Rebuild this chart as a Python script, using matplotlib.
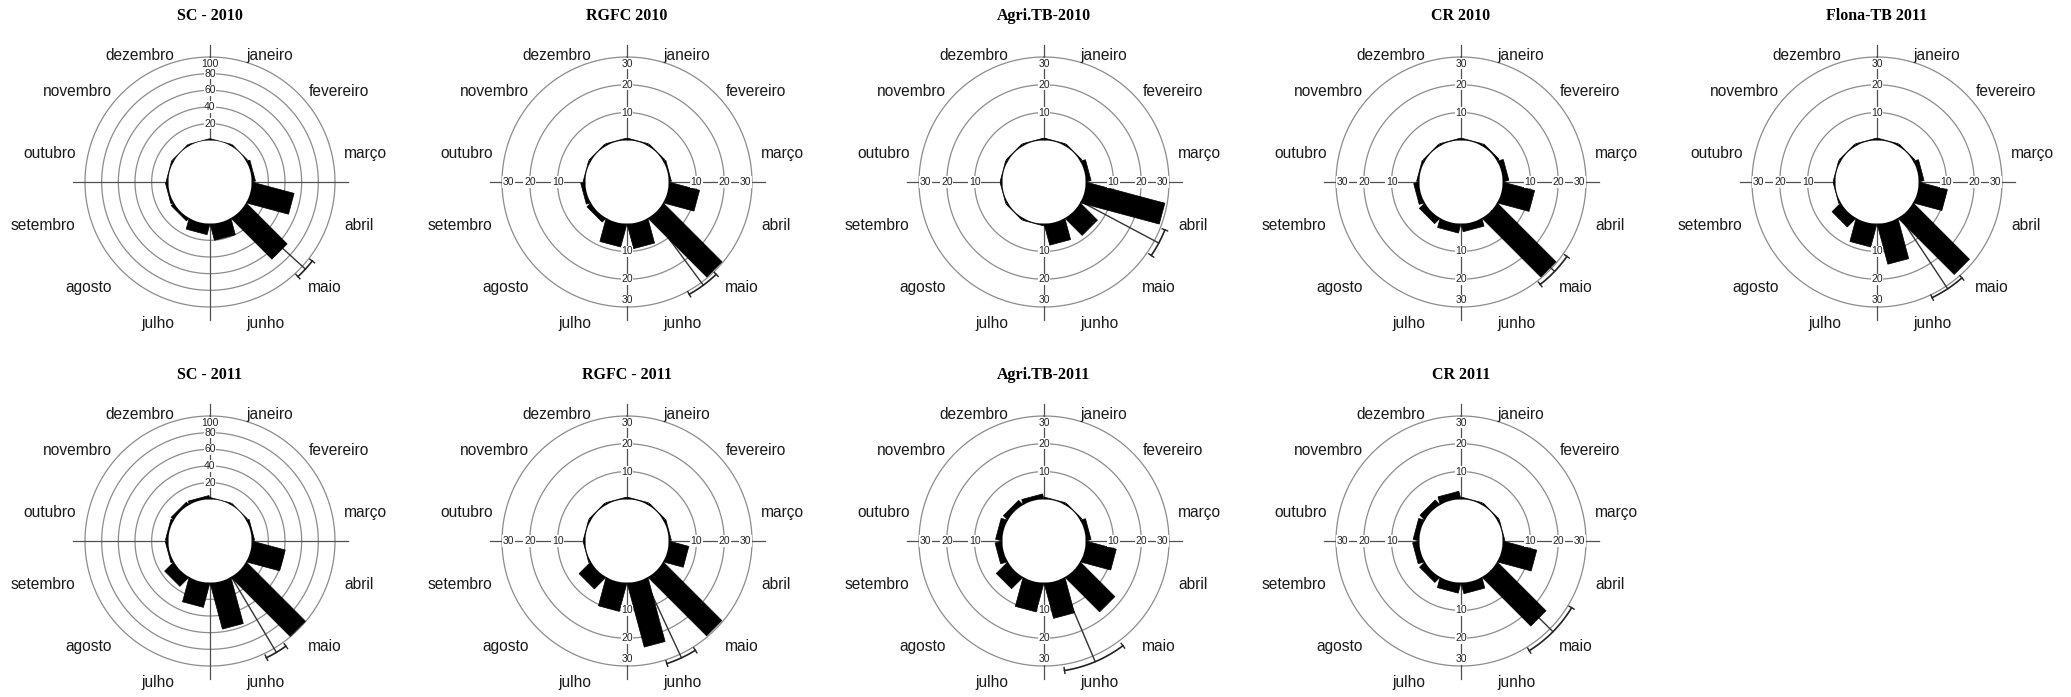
import matplotlib.pyplot as plt
import numpy as np

plt.rcParams['font.family'] = ['Liberation Sans', 'DejaVu Sans']

meses = ['janeiro', 'fevereiro', 'março', 'abril', 'maio', 'junho',
         'julho', 'agosto', 'setembro', 'outubro', 'novembro', 'dezembro']

titulos = ['SC - 2010', 'RGFC 2010', 'Agri.TB-2010', 'CR 2010', 'Flona-TB 2011',
           'SC - 2011', 'RGFC - 2011', 'Agri.TB-2011', 'CR 2011']
escalas = [100, 30, 30, 30, 30, 100, 30, 30, 30]

# frequência mensal (%) de cada área/ano
sc_2010 = [0.3, 0.5, 3, 51, 68, 19, 12, 3, 2, 1, 0.5, 0.3]
rgfc_2010 = [0.3, 0.3, 0.5, 11, 29.5, 8.8, 8.2, 1.5, 1.2, 0.3, 0.3, 0.3]
agri_2010 = [0.3, 0.3, 1.5, 29, 8.3, 7.5, 0.3, 0.3, 0.3, 0.3, 0.3, 0.3]
cr_2010 = [0.3, 0.5, 1.8, 11.4, 29.5, 2.5, 3, 2.3, 1.6, 0.5, 0.3, 0.3]
flona_2011 = [0.3, 0.3, 1.5, 10.2, 28.2, 14.6, 8.2, 4, 0.3, 0.3, 0.3, 0.3]
sc_2011 = [0.5, 0.5, 2, 40, 99, 56, 29, 14, 2, 2, 3, 3]
rgfc_2011 = [0.3, 0.3, 0.5, 7, 29.4, 23.5, 10.2, 5.5, 0.3, 0.3, 0.3, 0.3]
agri_2011 = [0.3, 0.3, 1.5, 10.9, 17.2, 12.8, 10.4, 5.4, 2.2, 2, 1.8, 1.5]
cr_2011 = [0.3, 0.3, 0.3, 12.2, 24.4, 3.6, 3.4, 2.2, 2, 1.8, 2, 2.5]
frequencias = [sc_2010, rgfc_2010, agri_2010, cr_2010, flona_2011,
               sc_2011, rgfc_2011, agri_2011, cr_2011]

# vetor médio: ângulo (graus), intervalo de confiança 95% (graus), comprimento
vet_angulo = [132.4, 143.5, 118, 133.7, 146.5, 149.2, 155, 157, 134.6]
vet_ic = [4.7, 7.5, 6.4, 8.6, 8, 5, 7, 14, 13.5]
vet_comp = [105, 31.2, 31.8, 31.6, 31.1, 105.6, 31.4, 32.2, 31.5]

W, H = 2071, 697
col_x = [210, 627, 1044, 1461, 1877]
lin_y = [182, 541]
lado = 300  # px


def barra_retangular(ax, k, valor, h0):
    # barra de lados paralelos: base = corda do furo central, topo a "valor" do furo
    b = np.deg2rad(30 * k + 15)
    meia = np.deg2rad(15)
    u = np.array([h0 * np.cos(meia), h0 + valor, h0 + valor, h0 * np.cos(meia)])
    v = np.array([-h0 * np.sin(meia), -h0 * np.sin(meia), h0 * np.sin(meia), h0 * np.sin(meia)])
    th = b + np.arctan2(v, u)
    r = np.hypot(u, v) - h0
    ax.fill(th, r, color='black', ec='black', lw=0.5, zorder=3)


def rosa(ax, freq, rmax, mu, ic, comp, titulo):
    h0 = 0.5 * rmax
    ax.set_theta_zero_location('N')
    ax.set_theta_direction(-1)
    ax.set_rorigin(-h0)
    ax.set_ylim(0, 1.3 * rmax)
    ax.axis('off')

    passo = 20 if rmax == 100 else 10
    aneis = np.arange(passo, rmax + 1, passo)
    t = np.linspace(0, 2 * np.pi, 361)
    for r in aneis:
        ax.plot(t, np.full_like(t, r), color='#8c8c8c', lw=0.9, zorder=1)

    # contorno do furo (dodecágono)
    tp = np.deg2rad(np.arange(0, 361, 30))
    ax.plot(tp, np.zeros_like(tp), color='#8c8c8c', lw=0.8, zorder=1)

    # eixos cruzados
    for a in [0, 90, 180, 270]:
        ax.plot([np.deg2rad(a)] * 2, [0, 1.15 * rmax], color='#505050', lw=0.9, zorder=1)

    # barras mensais
    for k, valor in enumerate(freq):
        barra_retangular(ax, k, valor, h0)

    # vetor médio e intervalo de confiança
    m = np.deg2rad(mu)
    ax.plot([m, m], [0, comp], color='#333333', lw=1.0, zorder=2)
    arco = np.deg2rad(np.linspace(mu - ic, mu + ic, 60))
    ax.plot(arco, np.full_like(arco, comp), color='#222222', lw=1.2, zorder=4)
    for e in [mu - ic, mu + ic]:
        ax.plot([np.deg2rad(e)] * 2, [comp - 0.035 * rmax, comp + 0.035 * rmax],
                color='#222222', lw=1.0, zorder=4)

    # rótulos da escala
    direcoes = [0] if rmax == 100 else [0, 90, 180, 270]
    for a in direcoes:
        for r in aneis:
            rr = r - 0.08 * rmax if r == rmax else r
            ax.text(np.deg2rad(a), rr, str(int(r)), ha='center', va='center',
                    fontsize=7.5, color='#222222', zorder=5,
                    bbox=dict(fc='white', ec='none', pad=0.4))

    # meses
    for k, nome in enumerate(meses):
        ang = np.deg2rad(15 + 30 * k)
        ax.text(ang, 1.168 * rmax, nome, ha='left' if k < 6 else 'right', va='top',
                fontsize=11.2, color='#1a1a1a', clip_on=False)

    ax.text(0.5, 0.5 + 166 / lado, titulo, transform=ax.transAxes, ha='center',
            va='center', fontsize=11.5, fontweight='bold',
            family=['Liberation Serif', 'DejaVu Serif'])


fig = plt.figure(figsize=(W / 100, H / 100), dpi=100)
for i, titulo in enumerate(titulos):
    cx = col_x[i % 5]
    cy = lin_y[i // 5]
    ax = fig.add_axes([(cx - lado / 2) / W, 1 - (cy + lado / 2) / H, lado / W, lado / H],
                      projection='polar')
    rosa(ax, frequencias[i], escalas[i], vet_angulo[i], vet_ic[i], vet_comp[i], titulo)

fig.savefig('out.png', dpi=100, facecolor='white')
